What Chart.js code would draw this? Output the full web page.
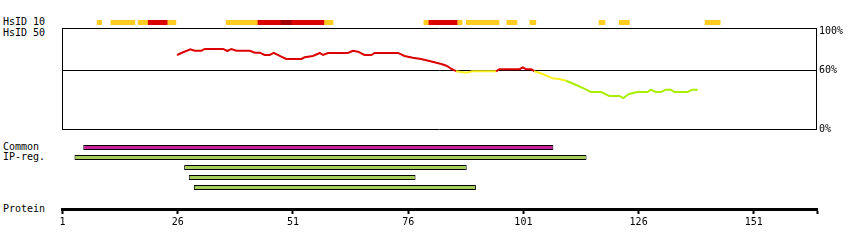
<!DOCTYPE html>
<html>
<head>
<meta charset="utf-8">
<title>HsID</title>
<script src="https://cdn.jsdelivr.net/npm/chart.js@4/dist/chart.umd.min.js"></script>
<style>
  body { margin: 0; background: #fff; }
  #wrap { position: relative; width: 850px; height: 250px; font: 10px "DejaVu Sans Mono", monospace; color: #000; }
  #wrap canvas { position: absolute; left: 0; }
  .lbl { position: absolute; left: 3px; line-height: 12px; white-space: pre; }
</style>
</head>
<body>
<div id="wrap">
  <div class="lbl" style="top:16px">HsID 10</div>
  <div class="lbl" style="top:27px">HsID 50</div>
  <div class="lbl" style="top:141px">Common</div>
  <div class="lbl" style="top:151px">IP-reg.</div>
  <div class="lbl" style="top:203px">Protein</div>
  <canvas id="strip" width="850" height="15" style="top:15px"></canvas>
  <canvas id="ident" width="850" height="115" style="top:25px"></canvas>
  <canvas id="feat" width="850" height="55" style="top:140px"></canvas>
  <canvas id="prot" width="850" height="40" style="top:195px"></canvas>
</div>
<script>
// residue axis
var residueRange = [1, 164.7];
var residueTicks = [1, 26, 51, 76, 101, 126, 151];
var pctTicks = [0, 60, 100];

// HsID 10 strip (residue ranges)
var hsid10Yellow = [[8.5, 9.5], [11.5, 16.7], [17.4, 25.6], [36.5, 59.7], [79.4, 87.7], [88.6, 95.7],
                    [97.4, 99.6], [102.4, 103.7], [117.4, 118.7], [121.8, 124.0], [140.4, 143.7]];
var hsid10Red = [[19.6, 23.7], [43.4, 57.7], [80.5, 86.6]];
var hsid10DarkRed = [[48.4, 50.6]];

// HsID 50 identity curve
var idPos = [25.9, 27.2, 28.8, 29.7, 31.2, 31.9, 35.9, 36.8, 37.7, 38.8, 41.7, 42.8, 43.9, 44.9, 46.0,
             46.9, 48.2, 49.6, 52.9, 53.6, 55.4, 56.9, 57.6, 58.7, 63.0, 64.1, 65.2, 66.6, 68.1, 68.8,
             73.9, 75.3, 77.1, 78.9, 80.7, 83.3, 84.4, 85.4, 86.5, 87.6, 88.7, 90.0, 95.2, 95.9, 100.3,
             101.0, 101.7, 102.8, 103.5, 105.3, 107.5, 108.9, 110.4, 112.6, 114.7, 115.8, 118.0, 119.8,
             122.0, 122.8, 124.1, 125.9, 128.1, 128.8, 129.9, 131.0, 132.1, 133.2, 133.9, 136.8, 137.9, 139.0];
var idPct = [76.2, 79.0, 82.1, 80.6, 80.6, 82.4, 82.4, 80.3, 82.4, 80.6, 80.6, 78.6, 78.6, 76.2, 76.2,
             78.3, 75.2, 72.1, 72.1, 73.8, 75.2, 78.3, 76.2, 78.3, 78.3, 80.6, 79.6, 76.2, 76.2, 78.3,
             78.3, 75.2, 73.4, 72.1, 70.0, 67.0, 65.2, 62.2, 59.5, 58.8, 58.0, 59.4, 59.4, 61.6, 61.6,
             63.4, 61.6, 61.6, 59.5, 56.6, 52.2, 51.5, 49.7, 45.3, 40.9, 38.1, 38.1, 34.0,
             34.0, 31.9, 36.0, 38.1, 38.1, 40.5, 38.1, 38.1, 40.5, 40.5, 38.1, 38.1, 40.5, 40.5];

// features
var featureRows = ['Common', 'IP-reg.', 'IP-reg.', 'IP-reg.', 'IP-reg.'];
var featureRanges = [[5.5, 107.5], [3.6, 114.7], [27.4, 88.7], [28.4, 77.6], [29.5, 90.7]];

Chart.defaults.font.family = '"DejaVu Sans Mono", monospace';
Chart.defaults.font.size = 10;
Chart.defaults.color = '#000';
Chart.defaults.animation = false;
Chart.defaults.responsive = false;
Chart.defaults.plugins.legend.display = false;
Chart.defaults.plugins.tooltip.enabled = false;

function xHidden() {
    return { type: 'linear', min: residueRange[0], max: residueRange[1], display: false };
}
// scale used only for its border line
function edge(extra) {
    return Object.assign({
        display: true,
        ticks: { display: false },
        grid: { display: false, drawOnChartArea: false, drawTicks: false },
        border: { display: true, color: '#000', width: 1 }
    }, extra);
}
function fitTo(w, h) {
    return function (s) {
        if (w !== null) s.width = w;
        if (h !== null) s.height = h;
        s.paddingTop = s.paddingBottom = s.paddingLeft = s.paddingRight = 0;
    };
}
function lineColor(v) {
    if (v >= 60) return '#dd0000';
    if (v >= 50) return '#fcf01e';
    return '#aaee00';
}

// HsID 10
new Chart(document.getElementById('strip'), {
    type: 'bar',
    data: {
        labels: ['HsID 10'],
        datasets: [
            { data: hsid10DarkRed.map(function (r) { return { x: r, y: 'HsID 10' }; }), backgroundColor: '#a00000', order: 1 },
            { data: hsid10Red.map(function (r) { return { x: r, y: 'HsID 10' }; }), backgroundColor: '#dd0000', order: 2 },
            { data: hsid10Yellow.map(function (r) { return { x: r, y: 'HsID 10' }; }), backgroundColor: '#ffcc22', order: 3 }
        ]
    },
    options: {
        indexAxis: 'y',
        layout: { padding: { left: 62.5, right: 33, top: 5, bottom: 5 } },
        datasets: { bar: { grouped: false, barPercentage: 1, categoryPercentage: 1, borderWidth: 0 } },
        scales: { x: xHidden(), y: { display: false } }
    }
});

// HsID 50
new Chart(document.getElementById('ident'), {
    type: 'line',
    data: {
        datasets: [{
            data: idPos.map(function (x, i) { return { x: x, y: idPct[i] }; }),
            borderWidth: 2,
            borderColor: '#dd0000',
            pointRadius: 0,
            segment: {
                borderColor: function (c) { return lineColor((c.p0.parsed.y + c.p1.parsed.y) / 2); }
            }
        }]
    },
    options: {
        layout: { padding: { top: 3, bottom: 11 } },
        scales: {
            x: edge({ type: 'linear', min: residueRange[0], max: residueRange[1], position: 'bottom', afterFit: fitTo(null, 0) }),
            xTop: edge({ type: 'linear', min: residueRange[0], max: residueRange[1], position: 'top', afterFit: fitTo(null, 0) }),
            yl: edge({ type: 'linear', min: 0, max: 104, position: 'left', afterFit: fitTo(62.5, null) }),
            y: {
                type: 'linear', min: 0, max: 104, position: 'right',
                afterBuildTicks: function (s) { s.ticks = pctTicks.map(function (v) { return { value: v }; }); },
                afterFit: fitTo(34, null),
                ticks: { padding: 3, callback: function (v) { return v + '%'; } },
                grid: {
                    drawTicks: false,
                    color: function (c) { return c.tick && c.tick.value === 60 ? '#000' : 'rgba(0,0,0,0)'; }
                },
                border: { color: '#000', width: 1 }
            }
        }
    }
});

// features
var featureColors = { 'Common': '#cc2299', 'IP-reg.': '#a4cd5c' };
new Chart(document.getElementById('feat'), {
    type: 'bar',
    data: {
        labels: featureRows,
        datasets: [{
            data: featureRanges,
            backgroundColor: featureRows.map(function (k) { return featureColors[k]; }),
            borderColor: '#000',
            borderWidth: 1,
            borderSkipped: false,
            barPercentage: 0.5,
            categoryPercentage: 1
        }]
    },
    options: {
        indexAxis: 'y',
        layout: { padding: { left: 62.5, right: 33, top: 2.5, bottom: 2.5 } },
        scales: { x: xHidden(), y: { display: false } }
    }
});

// protein axis
new Chart(document.getElementById('prot'), {
    type: 'line',
    data: { datasets: [{ data: [] }] },
    options: {
        layout: { padding: { left: 62.5, right: 33, top: 4 } },
        scales: {
            x: {
                type: 'linear', min: residueRange[0], max: residueRange[1],
                afterBuildTicks: function (s) {
                    s.ticks = residueTicks.concat([residueRange[1]]).map(function (v) { return { value: v }; });
                },
                afterFit: fitTo(null, 26),
                ticks: {
                    autoSkip: false, maxRotation: 0, padding: 2,
                    callback: function (v) { return residueTicks.indexOf(v) >= 0 ? String(v) : ''; }
                },
                grid: { drawOnChartArea: false, tickLength: 5, tickWidth: 2, tickColor: '#000' },
                border: { color: '#000', width: 3 }
            },
            y: { display: false }
        }
    }
});
</script>
</body>
</html>
